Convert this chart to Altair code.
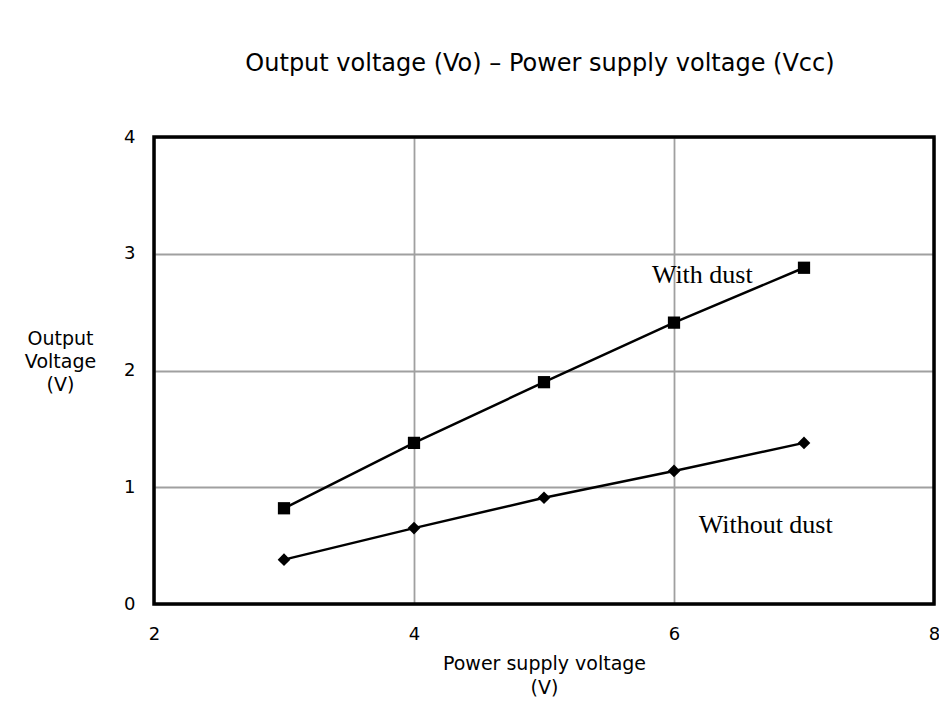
import altair as alt
import pandas as pd

supply_v = [3, 4, 5, 6, 7]
with_dust = [0.82, 1.38, 1.90, 2.41, 2.88]
without_dust = [0.38, 0.65, 0.91, 1.14, 1.38]

x_ticks = [2, 4, 6, 8]
y_ticks = [0, 1, 2, 3, 4]

ann_text = ["With dust", "Without dust"]
ann_x = [5.83, 6.19]
ann_y = [2.82, 0.68]

df_with = pd.DataFrame({"x": supply_v, "y": with_dust})
df_without = pd.DataFrame({"x": supply_v, "y": without_dust})
df_ann = pd.DataFrame({"text": ann_text, "x": ann_x, "y": ann_y})

FONT = "DejaVu Sans"
W, H = 780, 467

xs = alt.Scale(domain=[2, 8], nice=False, zero=False)
ys = alt.Scale(domain=[0, 4], nice=False)

x_enc = alt.X("x:Q", scale=xs, axis=alt.Axis(
    values=x_ticks, format="d", title=["Power supply voltage", "(V)"], titleFontSize=19,
    titleFont=FONT, titleFontWeight="normal", titleColor="black",
    titleBaseline="top", titleY=50, titleLineHeight=24,
    labelFont=FONT, labelFontSize=18, labelColor="black", labelPadding=21,
    tickSize=0, domain=False, grid=True, gridColor="#a0a0a0", gridWidth=1.8,
    labelFlush=False))
y_enc = alt.Y("y:Q", scale=ys, axis=alt.Axis(
    values=y_ticks, format="d", title=["Output", "Voltage", "(V)"], titleFontSize=19,
    titleFont=FONT, titleFontWeight="normal", titleColor="black",
    titleAngle=0, titleAlign="center", titleBaseline="top", titleX=-94, titleY=192,
    titleLineHeight=23,
    labelFont=FONT, labelFontSize=18, labelColor="black", labelPadding=19,
    tickSize=0, domain=False, grid=True, gridColor="#a0a0a0", gridWidth=1.8,
    labelFlush=False))

line_with = alt.Chart(df_with).mark_line(color="black", strokeWidth=2.5).encode(x=x_enc, y=y_enc)
pts_with = alt.Chart(df_with).mark_point(shape="square", filled=True, color="black", size=150, opacity=1).encode(x="x:Q", y="y:Q")
line_without = alt.Chart(df_without).mark_line(color="black", strokeWidth=2.5).encode(x="x:Q", y="y:Q")
pts_without = alt.Chart(df_without).mark_point(shape="diamond", filled=True, color="black", size=160, opacity=1).encode(x="x:Q", y="y:Q")
ann = alt.Chart(df_ann).mark_text(font="Liberation Serif", fontSize=26, color="black", align="left", baseline="middle").encode(
    x="x:Q", y="y:Q", text="text:N")
frame = alt.Chart(pd.DataFrame({"k": [0]})).mark_rect(fill=None, stroke="black", strokeWidth=3.5).encode(
    x=alt.value(0), x2=alt.value(W), y=alt.value(0), y2=alt.value(H))

chart = alt.layer(line_with, line_without, pts_with, pts_without, ann, frame).properties(
    width=W, height=H,
    title=alt.TitleParams("Output voltage (Vo) \u2013 Power supply voltage (Vcc)", font=FONT,
                          fontSize=24, fontWeight="normal", color="black", anchor="start",
                          dx=221, offset=52),
    autosize=alt.AutoSizeParams(type="none"),
    padding={"left": 146, "top": 129, "right": 5, "bottom": 95},
).configure_view(stroke=None).configure(background="white")

chart.save("out.html", embed_options={"renderer": "svg", "actions": False})
